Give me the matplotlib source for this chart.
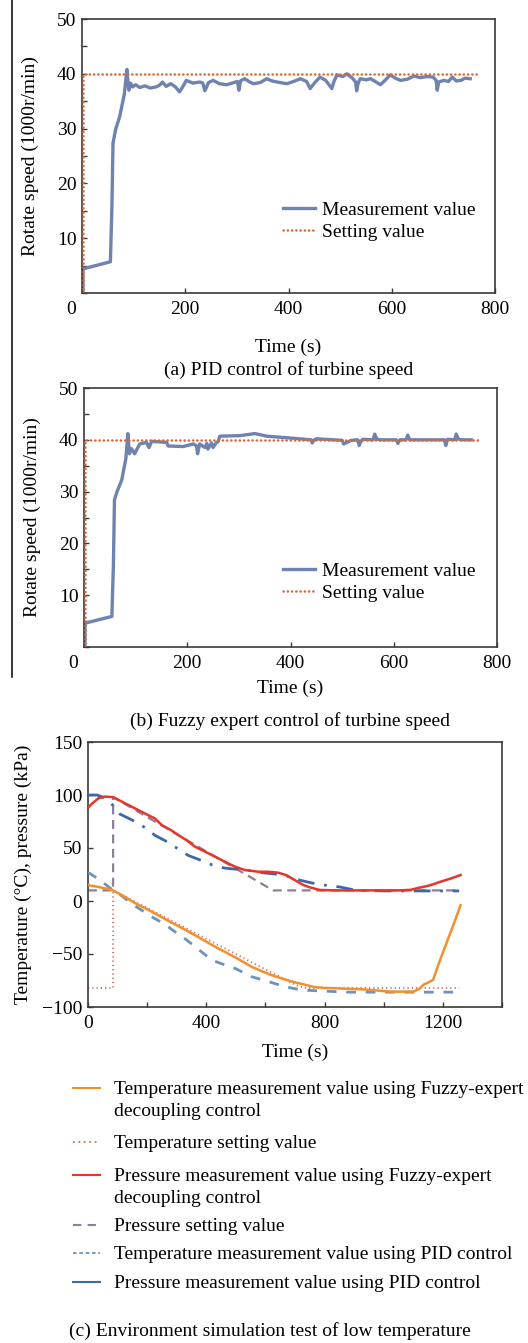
import matplotlib
matplotlib.use("Agg")
import matplotlib.pyplot as plt
from matplotlib.lines import Line2D
from matplotlib.ticker import MultipleLocator

plt.rcParams['font.family'] = ['Liberation Serif', 'DejaVu Serif']
plt.rcParams['font.size'] = 14
plt.rcParams['mathtext.fontset'] = 'stix'

# ---------------- data: (a) PID control of turbine speed ----------------
pid_t = [2, 2, 55, 58, 60, 65, 73, 82, 87, 89, 91, 94, 98, 104, 112, 122, 132, 143, 150, 156,
         163, 172, 181, 189, 195, 202, 215, 228, 234, 238, 245, 254, 266, 280, 294, 301, 304, 307,
         315, 325, 332, 345, 358, 368, 378, 390, 397, 410, 423, 435, 442, 451, 461, 472, 484, 488,
         494, 505, 513, 524, 530, 532, 535, 539, 550, 559, 568, 578, 588, 597, 607, 617, 630, 643,
         655, 669, 680, 686, 688, 691, 701, 710, 717, 725, 734, 742, 752]
pid_speed = [0, 4.4, 5.7, 16, 27.3, 29.8, 32.2, 36.3, 40.8, 38.5, 37.0, 38.3, 37.6, 38.0, 37.5,
             37.8, 37.4, 37.6, 37.9, 38.5, 37.7, 38.2, 37.6, 36.7, 37.6, 38.8, 38.3, 38.5, 38.3,
             36.9, 38.4, 38.8, 38.2, 38.0, 38.4, 38.6, 37.0, 38.7, 39.1, 38.5, 38.2, 38.4, 39.1,
             38.7, 38.5, 38.3, 38.2, 38.6, 39.1, 38.6, 37.3, 38.4, 39.4, 38.8, 37.3, 38.6, 39.8,
             39.5, 40.0, 39.2, 38.5, 36.9, 38.3, 39.1, 38.9, 39.1, 38.6, 38.0, 38.9, 39.8, 39.2,
             38.8, 39.0, 39.6, 39.3, 39.5, 39.4, 38.8, 37.0, 38.5, 38.8, 38.6, 39.4, 38.7, 38.8,
             39.2, 39.1]
set_t = [2, 2, 767]
set_speed = [0, 40, 40]

# ---------------- data: (b) Fuzzy expert control of turbine speed ----------------
fz_t = [2, 2, 54, 57, 59, 64, 73, 81, 85, 88, 92, 98, 108, 121, 126, 131, 160, 163, 192, 212,
        218, 220, 224, 234, 238, 240, 247, 250, 256, 260, 263, 302, 331, 354, 405, 440, 442, 445,
        450, 500, 503, 518, 530, 533, 537, 540, 560, 563, 567, 572, 605, 608, 612, 624, 627, 631,
        669, 698, 701, 704, 718, 721, 725, 730, 750]
fz_speed = [0, 4.6, 5.9, 16, 28.4, 30.0, 32.2, 36.3, 41.2, 37.3, 38.3, 37.3, 39.2, 39.5, 38.5,
            39.7, 39.5, 38.8, 38.7, 39.2, 38.8, 37.3, 39.2, 38.5, 39.3, 38.2, 39.4, 38.5, 39.4,
            39.7, 40.7, 40.8, 41.2, 40.7, 40.3, 40.0, 39.4, 39.9, 40.2, 39.9, 39.2, 39.9, 40.0,
            38.9, 39.8, 40.1, 40.0, 41.1, 40.2, 40.0, 40.0, 39.3, 40.0, 40.0, 40.9, 40.0, 40.0,
            40.0, 38.9, 40.1, 40.0, 41.1, 40.2, 40.0, 40.0]

# ---------------- data: (c) Environment simulation test ----------------
tf_t = [0, 40, 82, 114, 159, 215, 270, 328, 385, 440, 500, 553, 590, 621, 655, 689, 734, 762,
        800, 850, 931, 980, 1021, 1060, 1100, 1120, 1134, 1150, 1167, 1185, 1201, 1220, 1235,
        1252, 1260]
tf_v = [15, 13, 10.4, 5.7, -2, -10, -18.5, -27, -36, -44.7, -53.5, -62, -66.5, -70, -73, -76,
        -79, -81, -82, -82.5, -83.4, -84.5, -85.5, -85.5, -85.5, -83, -79, -77, -74.5, -60, -48,
        -34, -23, -10, -4]

ts_t = [0, 85, 85, 700, 730, 1255]
ts_v = [-82, -82, 10, -79, -82, -82]

pf_t = [0, 10, 35, 57, 85, 125, 170, 210, 226, 249, 280, 305, 335, 362, 400, 440, 470, 497,
        531, 576, 610, 643, 670, 689, 710, 728, 750, 784, 850, 950, 1050, 1090, 1120, 1145,
        1170, 1190, 1230, 1260]
pf_v = [88, 91, 96.9, 98.5, 98, 92.2, 85.8, 80, 78, 71.7, 67, 62.3, 57, 51.2, 46, 40.3, 36,
        32.4, 29.2, 27.6, 27.6, 26.7, 24.5, 21.4, 18, 15.1, 12.9, 10.4, 10, 10, 10, 10.5, 12.5,
        14, 16, 18, 21.5, 24.5]

ps_t = [0, 85, 85, 626, 1255]
ps_v = [10, 10, 98, 10, 10]

tp_t = [0, 40, 80, 103, 150, 215, 260, 294, 330, 362, 418, 460, 497, 553, 610, 666, 722, 800,
        875, 1000, 1100, 1235, 1255]
tp_v = [27, 20, 11, 7.2, -3, -14.8, -22, -29, -36, -43, -55.7, -60, -63.5, -71.4, -76, -80.8,
        -84, -85, -86, -86, -86, -86, -86]

pp_t = [0, 30, 60, 75, 85, 95, 108, 159, 200, 226, 260, 300, 339, 379, 420, 463, 541, 589,
        666, 689, 762, 800, 852, 908, 1000, 1100, 1255]
pp_v = [100, 100, 97, 93, 90, 85, 82, 75, 68, 62, 57, 50, 43, 38.7, 34, 31, 29, 26.7, 24.5,
        21.4, 16.7, 15, 13.2, 10, 9.5, 9.5, 9.5]

legend_labels = [
    "Temperature measurement value using Fuzzy-expert\ndecoupling control",
    "Temperature setting value",
    "Pressure measurement value using Fuzzy-expert\ndecoupling control",
    "Pressure setting value",
    "Temperature measurement value using PID control",
    "Pressure measurement value using PID control",
]
captions = ["(a) PID control of turbine speed",
            "(b) Fuzzy expert control of turbine speed",
            "(c) Environment simulation test of low temperature"]

# ---------------- styling ----------------
W, H = 528, 1343
fig = plt.figure(figsize=(W / 100, H / 100), dpi=100)

def fx(px):
    return px / W

def fy(py):
    return 1 - py / H

MEAS = '#6f82b0'
SETC = '#d8683c'
SPINE = '#3a3a3a'
dots = (0, (0.1, 1.6))


def style_axes(ax):
    for s in ax.spines.values():
        s.set_color(SPINE)
        s.set_linewidth(1.2)
    ax.tick_params(which='both', direction='in', length=3.8, width=1.0, color=SPINE,
                   top=False, right=False, labelsize=14)


def speed_axes(rect, t, v, xlab_y):
    ax = fig.add_axes(rect)
    style_axes(ax)
    ax.plot(t, v, color=MEAS, lw=2.4, solid_joinstyle='round', label='Measurement value', zorder=2)
    ax.plot(set_t, set_speed, color=SETC, lw=1.8, linestyle=dots, dash_capstyle='round',
            label='Setting value', zorder=3)
    ax.set_xlim(0, 800)
    ax.set_ylim(0, 50)
    ax.set_xticks([200, 400, 600, 800])
    ax.set_yticks([10, 20, 30, 40, 50])
    ax.yaxis.set_minor_locator(MultipleLocator(5))
    ax.tick_params(axis='x', pad=6)
    ax.tick_params(axis='y', pad=4)
    ax.annotate('0', xy=(0, 0), xycoords=('data', 'axes fraction'), xytext=(-8, -6),
                textcoords='offset points', ha='center', va='top', fontsize=14)
    ax.set_xlabel('Time (s)')
    ax.xaxis.set_label_coords(0.5, xlab_y)
    ax.set_ylabel('Rotate speed (1000r/min)')
    ax.yaxis.set_label_coords(-0.105, 0.5)
    return ax


ax1 = speed_axes([fx(82), fy(293), 413 / W, 274 / H], pid_t, pid_speed, -0.165)
ax1.legend(loc='center left', bbox_to_anchor=(fx(283), fy(221)), bbox_transform=fig.transFigure,
           frameon=False, handlelength=1.65, handletextpad=0.35, labelspacing=0.25,
           borderpad=0, borderaxespad=0, fontsize=14)
fig.text(fx(289), fy(370), captions[0], ha='center', va='center', fontsize=14)

ax2 = speed_axes([fx(84), fy(647), 413 / W, 259 / H], fz_t, fz_speed, -0.125)
ax2.legend(loc='center left', bbox_to_anchor=(fx(283), fy(582)), bbox_transform=fig.transFigure,
           frameon=False, handlelength=1.65, handletextpad=0.35, labelspacing=0.25,
           borderpad=0, borderaxespad=0, fontsize=14)
fig.text(fx(290), fy(721), captions[1], ha='center', va='center', fontsize=14)

# left decorative rule
fig.add_artist(Line2D([fx(12), fx(12)], [fy(0), fy(677)], color='black', lw=1.1))

# ---------------- (c) ----------------
C_TF = '#f0902e'
C_TS = '#c4705c'
C_PF = '#e8342a'
C_PS = '#8c7f96'
C_TP = '#6b93bf'
C_PP = '#3c68a6'

ax3 = fig.add_axes([fx(88), fy(1007), 414 / W, 265 / H])
style_axes(ax3)
ax3.plot(ps_t, ps_v, color=C_PS, lw=1.6, linestyle=(0, (4, 2.5)), zorder=2)
ax3.plot(ts_t, ts_v, color=C_TS, lw=1.4, linestyle=(0, (0.6, 1.6)), zorder=2)
ax3.plot(tp_t, tp_v, color=C_TP, lw=2.0, linestyle=(0, (3.5, 3.5)), zorder=3)
ax3.plot(pp_t, pp_v, color=C_PP, lw=2.0, linestyle=(0, (6, 3.5, 1, 3.5)), zorder=3)
ax3.plot(tf_t, tf_v, color=C_TF, lw=1.8, zorder=4)
ax3.plot(pf_t, pf_v, color=C_PF, lw=1.8, zorder=4)
ax3.set_xlim(0, 1400)
ax3.set_ylim(-100, 150)
ax3.set_xticks([0, 400, 800, 1200])
ax3.xaxis.set_minor_locator(MultipleLocator(200))
ax3.set_yticks([-100, -50, 0, 50, 100, 150])
ax3.set_yticklabels(['\u2212100', '\u221250', '0', '50', '100', '150'])
ax3.tick_params(axis='x', pad=6)
ax3.tick_params(axis='y', pad=4)
ax3.set_xlabel('Time (s)')
ax3.xaxis.set_label_coords(0.5, -0.14)
ax3.set_ylabel('Temperature (\u00b0C), pressure (kPa)')
ax3.yaxis.set_label_coords(-0.135, 0.5)

# manual legend for (c)
leg_styles = [
    dict(color=C_TF, lw=1.5, linestyle='-'),
    dict(color=C_TS, lw=1.3, linestyle=(0, (1, 2))),
    dict(color=C_PF, lw=1.5, linestyle='-'),
    dict(color=C_PS, lw=1.5, linestyle=(0, (4, 3))),
    dict(color=C_TP, lw=1.3, linestyle=(0, (2, 1.5))),
    dict(color=C_PP, lw=1.5, linestyle='-'),
]
leg_y = [1088, 1142, 1175, 1225, 1253, 1282]
for lab, st, yy in zip(legend_labels, leg_styles, leg_y):
    fig.add_artist(Line2D([fx(73), fx(100)], [fy(yy), fy(yy)], **st))
    for k, line in enumerate(lab.split('\n')):
        fig.text(fx(114), fy(yy + 6 + 22 * k), line, ha='left', va='baseline', fontsize=14)

fig.text(fx(270), fy(1331), captions[2], ha='center', va='center', fontsize=14)

fig.savefig('out.png', dpi=100)
